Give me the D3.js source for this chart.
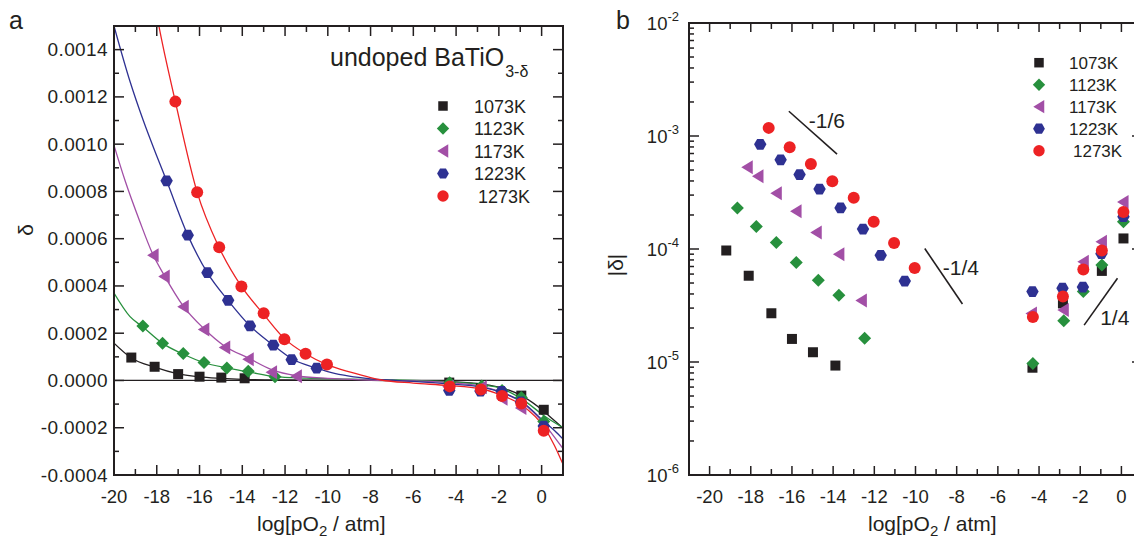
<!DOCTYPE html>
<html>
<head>
<meta charset="utf-8">
<script src="https://cdn.jsdelivr.net/npm/d3@7"></script>
<style>
  body { margin: 0; background: #fff; }
  svg text { font-family: "Liberation Sans", Arial, Helvetica, sans-serif; fill: #231f20; }
</style>
</head>
<body>
<svg id="fig" width="1134" height="539"></svg>
<script>
// ---------- data ----------
const temperatures = ["1073K", "1123K", "1173K", "1223K", "1273K"];
const colors = ["#231f20", "#27903d", "#a24fa6", "#2e3192", "#ed2224"];
const symbols = ["square", "diamond", "triangle", "hexagon", "circle"];

// measured points: log(pO2/atm) and signed nonstoichiometry δ
const logP1073 = [-19.19, -18.1, -17.0, -16.0, -14.98, -13.89, -4.32, -2.84, -0.95, 0.1];
const delta1073 = [9.7e-5, 5.8e-5, 2.7e-5, 1.6e-5, 1.22e-5, 9.3e-6, -8.9e-6, -3.3e-5, -6.4e-5, -1.24e-4];

const logP1123 = [-18.65, -17.73, -16.76, -15.79, -14.72, -13.72, -12.47, -4.3, -2.8, -1.85, -0.95, 0.1];
const delta1123 = [2.3e-4, 1.58e-4, 1.14e-4, 7.6e-5, 5.3e-5, 3.9e-5, 1.62e-5, -9.7e-6, -2.32e-5, -4.2e-5, -7.2e-5, -1.74e-4];

const logP1173 = [-18.17, -17.65, -16.76, -15.8, -14.82, -13.72, -12.63, -11.47, -4.37, -2.82, -1.85, -0.97, 0.08];
const delta1173 = [5.3e-4, 4.4e-4, 3.12e-4, 2.16e-4, 1.4e-4, 9.0e-5, 3.5e-5, 1.8e-5, -2.69e-5, -2.88e-5, -7.7e-5, -1.16e-4, -2.61e-4];

const logP1223 = [-17.54, -16.55, -15.63, -14.66, -13.64, -12.55, -11.69, -10.52, -4.32, -2.86, -1.87, -0.97, 0.1];
const delta1223 = [8.45e-4, 6.15e-4, 4.56e-4, 3.39e-4, 2.31e-4, 1.5e-4, 8.8e-5, 5.2e-5, -4.2e-5, -4.5e-5, -4.6e-5, -9.1e-5, -1.93e-4];

const logP1273 = [-17.13, -16.11, -15.08, -14.04, -13.0, -12.03, -11.04, -10.04, -4.3, -2.84, -1.85, -0.95, 0.1];
const delta1273 = [1.18e-3, 7.96e-4, 5.64e-4, 3.98e-4, 2.84e-4, 1.74e-4, 1.13e-4, 6.8e-5, -2.5e-5, -3.8e-5, -6.6e-5, -9.7e-5, -2.13e-4];

// points shown in only one of the two panels
const onlyInLinear = [["1173K", -11.47]];
const onlyInLog = [["1173K", 0.08]];

// fitted defect-model curves, sampled along log(pO2)
const fitX1073 = [-20, -19.2, -18.1, -17.0, -16.0, -15.0, -14.0, -12.0, -10.0, -8.0, -6.0, -4.3, -2.8, -1.9, -0.9, 0.1, 0.5, 1.0];
const fitD1073 = [1.58e-4, 9.6e-5, 5.6e-5, 2.8e-5, 1.5e-5, 9e-6, 5e-6, 2e-6, 1e-6, 0, -1e-6, -5e-6, -1.5e-5, -3e-5, -6.6e-5, -1.3e-4, -1.62e-4, -2.02e-4];

const fitX1123 = [-20, -19.25, -18.66, -17.73, -16.8, -15.78, -14.72, -13.7, -12.47, -11, -9, -7, -5, -4.3, -2.8, -1.9, -0.9, 0.13, 0.6, 1.0];
const fitD1123 = [3.7e-4, 2.7e-4, 2.27e-4, 1.57e-4, 1.13e-4, 7.5e-5, 5.3e-5, 3.6e-5, 1.6e-5, 1.0e-5, 6e-6, 2e-6, -3e-6, -6e-6, -1.8e-5, -3.3e-5, -8e-5, -1.5e-4, -1.78e-4, -2.0e-4];

const fitX1173 = [-20, -19.48, -18.81, -18.19, -17.65, -16.76, -15.8, -14.82, -13.72, -12.63, -11.47, -10, -8, -6, -4.3, -2.8, -1.9, -0.9, 0.13, 0.6, 1.0];
const fitD1173 = [9.95e-4, 8.45e-4, 6.77e-4, 5.35e-4, 4.45e-4, 3.15e-4, 2.2e-4, 1.45e-4, 9.5e-5, 4.6e-5, 2.0e-5, 9e-6, 2e-6, -2e-6, -9e-6, -2.5e-5, -5e-5, -9.5e-5, -1.85e-4, -2.4e-4, -2.88e-4];

const fitX1223 = [-20, -19.25, -18.63, -18.0, -17.54, -16.55, -15.63, -14.66, -13.64, -12.55, -11.69, -10.52, -9.87, -9, -8, -7, -6, -4.3, -2.84, -1.9, -0.89, 0.13, 0.6, 1.06];
const fitD1223 = [1.5e-3, 1.265e-3, 1.1e-3, 9.5e-4, 8.45e-4, 6.15e-4, 4.55e-4, 3.38e-4, 2.31e-4, 1.49e-4, 9.2e-5, 5.2e-5, 3.4e-5, 1.8e-5, 7e-6, 1e-6, -4e-6, -1.5e-5, -2.8e-5, -4.9e-5, -9.2e-5, -1.75e-4, -2.12e-4, -2.54e-4];

const fitX1273 = [-18.2, -17.9, -17.13, -16.11, -15.08, -14.04, -13.0, -12.03, -11.04, -10.04, -8.94, -8.0, -7.5, -6.0, -4.4, -2.84, -1.87, -0.9, 0.13, 0.6, 1.0];
const fitD1273 = [1.65e-3, 1.5e-3, 1.18e-3, 7.96e-4, 5.62e-4, 3.98e-4, 2.8e-4, 1.77e-4, 1.13e-4, 6.7e-5, 3.5e-5, 1.2e-5, 2e-6, -1.1e-5, -2.1e-5, -3.5e-5, -6.3e-5, -1.06e-4, -2.0e-4, -2.75e-4, -3.55e-4];

// slope guides on the log plot: endpoints in (log pO2, |δ|)
const guideLabels = ["-1/6", "-1/4", "1/4"];
const guideX0 = [-16.15, -9.55, -1.81];
const guideD0 = [1.656e-3, 1.01e-4, 2.12e-5];
const guideX1 = [-13.81, -7.72, -0.19];
const guideD1 = [6.9e-4, 3.26e-5, 5.5e-5];

// tick values
const linXTicks = [-20, -18, -16, -14, -12, -10, -8, -6, -4, -2, 0];
const linXMinor = [-19, -17, -15, -13, -11, -9, -7, -5, -3, -1, 1];
const linYTicks = [-0.0004, -0.0002, 0, 0.0002, 0.0004, 0.0006, 0.0008, 0.0010, 0.0012, 0.0014];
const linYMinor = [-0.0003, -0.0001, 0.0001, 0.0003, 0.0005, 0.0007, 0.0009, 0.0011, 0.0013, 0.0015];
const logXTicks = [-20, -18, -16, -14, -12, -10, -8, -6, -4, -2, 0];
const logXMinor = [-21, -19, -17, -15, -13, -11, -9, -7, -5, -3, -1, 1];
const logYExponents = [-6, -5, -4, -3, -2];

// ---------- assemble series ----------
const pts = [[logP1073, delta1073], [logP1123, delta1123], [logP1173, delta1173], [logP1223, delta1223], [logP1273, delta1273]];
const fits = [[fitX1073, fitD1073], [fitX1123, fitD1123], [fitX1173, fitD1173], [fitX1223, fitD1223], [fitX1273, fitD1273]];
const series = temperatures.map((t, i) => ({
  name: t, color: colors[i], symbol: symbols[i],
  points: pts[i][0].map((x, j) => ({x, d: pts[i][1][j]})),
  fit: fits[i][0].map((x, j) => ({x, d: fits[i][1][j]}))
}));
const inList = (list, name, x) => list.some(([n, v]) => n === name && v === x);

// ---------- marker shapes ----------
function symbolPath(type, s = 1) {
  switch (type) {
    case "square": return `M${-5*s},${-5*s}H${5*s}V${5*s}H${-5*s}Z`;
    case "diamond": return `M0,${-6.5*s}L${6.5*s},0L0,${6.5*s}L${-6.5*s},0Z`;
    case "triangle": return `M${-6*s},0L${5.5*s},${-7*s}L${5.5*s},${7*s}Z`;
    case "hexagon": {
      const r = 6.2 * s;
      return d3.range(6).map(k => {
        const a = k * Math.PI / 3;
        return (k ? "L" : "M") + (r * Math.cos(a)).toFixed(2) + "," + (r * Math.sin(a)).toFixed(2);
      }).join("") + "Z";
    }
    default: {
      const r = 6 * s;
      return `M${r},0A${r},${r} 0 1,1 ${-r},0A${r},${r} 0 1,1 ${r},0Z`;
    }
  }
}

const svg = d3.select("#fig");
const ink = "#231f20";

// inward ticks on all four sides plus the frame
function ticks(g, x, y, spec) {
  const [x0, x1] = x.range();
  const [y0, y1] = y.range();
  const tg = g.append("g").attr("stroke", ink).attr("stroke-width", 1.5);
  spec.xMaj.forEach(v => {
    tg.append("line").attr("x1", x(v)).attr("x2", x(v)).attr("y1", y0).attr("y2", y0 - spec.lx);
    tg.append("line").attr("x1", x(v)).attr("x2", x(v)).attr("y1", y1).attr("y2", y1 + spec.lx);
  });
  spec.xMin.filter(v => x(v) >= x0 && x(v) <= x1).forEach(v => {
    tg.append("line").attr("x1", x(v)).attr("x2", x(v)).attr("y1", y0).attr("y2", y0 - spec.sx);
    tg.append("line").attr("x1", x(v)).attr("x2", x(v)).attr("y1", y1).attr("y2", y1 + spec.sx);
  });
  spec.yMaj.forEach(v => {
    tg.append("line").attr("y1", y(v)).attr("y2", y(v)).attr("x1", x0).attr("x2", x0 + spec.ly);
    tg.append("line").attr("y1", y(v)).attr("y2", y(v)).attr("x1", x1).attr("x2", x1 - spec.ly);
  });
  spec.yMin.filter(v => y(v) <= y0 && y(v) >= y1).forEach(v => {
    tg.append("line").attr("y1", y(v)).attr("y2", y(v)).attr("x1", x0).attr("x2", x0 + spec.sy);
    tg.append("line").attr("y1", y(v)).attr("y2", y(v)).attr("x1", x1).attr("x2", x1 - spec.sy);
  });
  g.append("rect").attr("x", x0).attr("y", y1).attr("width", x1 - x0).attr("height", y0 - y1)
    .attr("fill", "none").attr("stroke", ink).attr("stroke-width", 2);
}

function xTitle(g, xStart) {
  const t = g.append("text").attr("x", xStart).attr("y", 531).attr("font-size", 21);
  t.append("tspan").text("log[pO");
  t.append("tspan").attr("font-size", 15).attr("dy", 5).text("2");
  t.append("tspan").attr("dy", -5).text(" / atm]");
}

function legend(g, x0, y0, step, tx, fs) {
  series.forEach((s, i) => {
    g.append("path").attr("d", symbolPath(s.symbol, 0.95))
      .attr("transform", `translate(${x0},${y0 + i * step})`).attr("fill", s.color);
    g.append("text").attr("x", tx + (i === 4 ? 4 : 0)).attr("y", y0 + i * step + 6.5)
      .attr("font-size", fs).text(s.name);
  });
}

// ================= panel a: linear δ =================
{
  const g = svg.append("g");
  const x = d3.scaleLinear().domain([-20, 1]).range([114, 563]);
  const y = d3.scaleLinear().domain([-0.0004, 0.0015]).range([475, 26]);

  svg.append("clipPath").attr("id", "clipA").append("rect")
    .attr("x", 114).attr("y", 26).attr("width", 449).attr("height", 449);

  // zero reference
  g.append("line").attr("x1", x(-20)).attr("x2", x(1)).attr("y1", y(0)).attr("y2", y(0))
    .attr("stroke", ink).attr("stroke-width", 1.2);

  const line = d3.line().x(p => x(p.x)).y(p => y(p.d)).curve(d3.curveMonotoneX);
  const cg = g.append("g").attr("clip-path", "url(#clipA)");
  series.forEach(s => {
    cg.append("path").attr("d", line(s.fit)).attr("fill", "none")
      .attr("stroke", s.color).attr("stroke-width", 1.3);
  });
  series.forEach(s => {
    cg.selectAll(null).data(s.points.filter(p => !inList(onlyInLog, s.name, p.x))).join("path")
      .attr("d", symbolPath(s.symbol))
      .attr("transform", p => `translate(${x(p.x)},${y(p.d)})`)
      .attr("fill", s.color);
  });

  ticks(g, x, y, { xMaj: linXTicks, xMin: linXMinor, yMaj: linYTicks, yMin: linYMinor, lx: 10, sx: 6, ly: 10, sy: 5 });

  linXTicks.forEach(v => g.append("text").attr("x", x(v)).attr("y", 503)
    .attr("text-anchor", "middle").attr("font-size", 18.5).text(v));
  linYTicks.forEach(v => g.append("text").attr("x", 108).attr("y", y(v) + 6.5)
    .attr("text-anchor", "end").attr("font-size", 19).attr("letter-spacing", 0.4).text(v.toFixed(4)));

  xTitle(g, 257);
  g.append("text").attr("transform", "translate(33,230) rotate(-90)")
    .attr("text-anchor", "middle").attr("font-size", 21).text("δ");
  g.append("text").attr("x", 9).attr("y", 29).attr("font-size", 25).text("a");

  const title = g.append("text").attr("x", 330).attr("y", 66).attr("font-size", 25);
  title.append("tspan").text("undoped BaTiO");
  title.append("tspan").attr("font-size", 16).attr("dy", 11).attr("dx", 1).text("3-δ");

  legend(g, 443, 106, 22.5, 474, 18);
}

// ================= panel b: log |δ| =================
{
  const g = svg.append("g");
  const x = d3.scaleLinear().domain([-21, 1]).range([689, 1142]);
  const y = d3.scaleLog().domain([1e-6, 1e-2]).range([475, 23]);

  const majors = logYExponents.map(e => Math.pow(10, e));
  const minors = [];
  logYExponents.slice(0, -1).forEach(e => d3.range(2, 10).forEach(m => minors.push(m * Math.pow(10, e))));

  ticks(g, x, y, { xMaj: logXTicks, xMin: logXMinor, yMaj: majors, yMin: minors, lx: 9, sx: 6, ly: 10, sy: 5 });

  series.forEach(s => {
    g.selectAll(null).data(s.points.filter(p => !inList(onlyInLinear, s.name, p.x))).join("path")
      .attr("d", symbolPath(s.symbol))
      .attr("transform", p => `translate(${x(p.x)},${y(Math.abs(p.d))})`)
      .attr("fill", s.color);
  });

  // slope guides
  const labelOffsets = [[20, 17], [18, 26], [16, 0]];
  guideLabels.forEach((lab, i) => {
    const ax = x(guideX0[i]), ay = y(guideD0[i]), bx = x(guideX1[i]), by = y(guideD1[i]);
    g.append("line").attr("x1", ax).attr("y1", ay).attr("x2", bx).attr("y2", by)
      .attr("stroke", ink).attr("stroke-width", 1.6);
    g.append("text").attr("x", ax + labelOffsets[i][0]).attr("y", ay + labelOffsets[i][1])
      .attr("font-size", 21).text(lab);
  });

  logXTicks.forEach(v => g.append("text").attr("x", x(v)).attr("y", 503)
    .attr("text-anchor", "middle").attr("font-size", 18.5).text(v));
  logYExponents.forEach(e => {
    const t = g.append("text").attr("x", 679).attr("y", y(Math.pow(10, e)) + 7)
      .attr("text-anchor", "end").attr("font-size", 18.5);
    t.append("tspan").text("10");
    t.append("tspan").attr("font-size", 13).attr("dy", -9.5).text(e);
  });

  xTitle(g, 868);
  g.append("text").attr("transform", "translate(623,265) rotate(-90)")
    .attr("text-anchor", "middle").attr("font-size", 21).text("|δ|");
  g.append("text").attr("x", 616).attr("y", 29).attr("font-size", 25).text("b");

  legend(g, 1039, 62.7, 22, 1069, 17);
}
</script>
</body>
</html>
